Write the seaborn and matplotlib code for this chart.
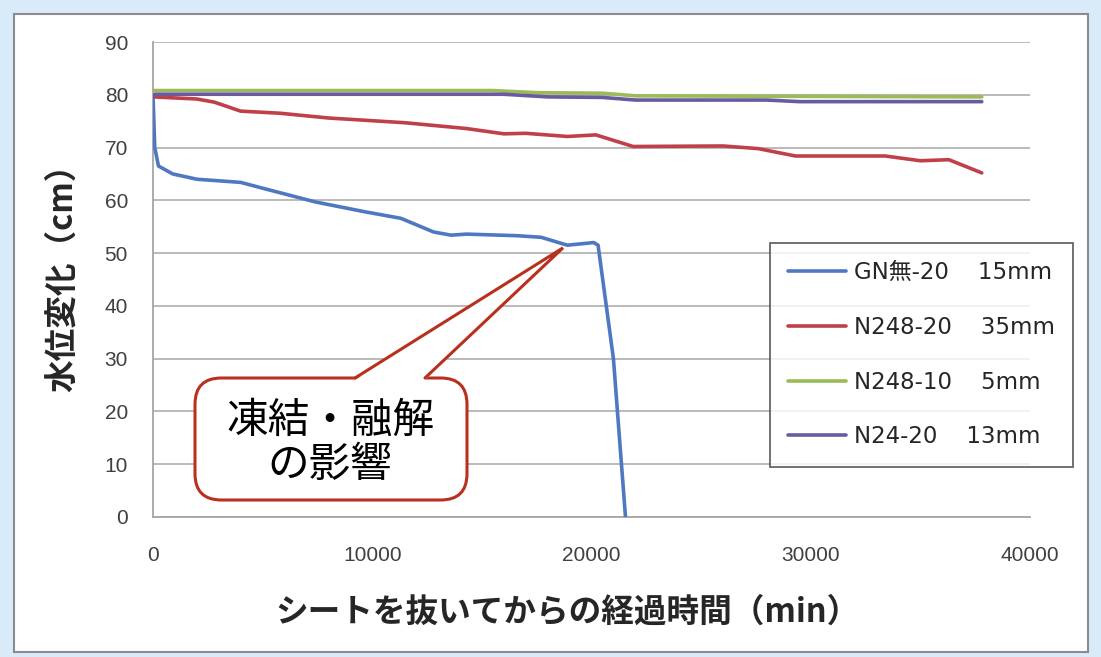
import numpy as np
import pandas as pd
import matplotlib
matplotlib.use('Agg')
import matplotlib.pyplot as plt
import seaborn as sns
from matplotlib.patches import FancyBboxPatch, Polygon, Rectangle
from matplotlib.lines import Line2D

# --- data ------------------------------------------------------------------
t_gn = [0, 80, 250, 900, 2000, 4000, 5000, 7400, 9700, 11300, 12800, 13600,
        14300, 16600, 17700, 18900, 20100, 20300, 21000, 21550]
h_gn = [80, 70, 66.5, 65, 64, 63.4, 62.3, 59.7, 57.8, 56.6, 54.0, 53.4,
        53.6, 53.3, 53.0, 51.5, 52.0, 51.5, 30.0, 0.0]

t_n248_20 = [0, 2000, 2800, 4000, 5800, 8000, 11500, 14300, 16000, 17000,
             18900, 20200, 21900, 26000, 27600, 29300, 33400, 35000, 36300, 37800]
h_n248_20 = [79.6, 79.2, 78.6, 76.9, 76.5, 75.6, 74.7, 73.6, 72.6, 72.7,
             72.1, 72.4, 70.2, 70.3, 69.8, 68.4, 68.4, 67.5, 67.7, 65.2]

t_n248_10 = [0, 15500, 17500, 20500, 22000, 37800]
h_n248_10 = [80.8, 80.8, 80.4, 80.3, 79.8, 79.6]

t_n24_20 = [0, 100, 16000, 18000, 20500, 22000, 28000, 29500, 37800]
h_n24_20 = [79.6, 80.1, 80.1, 79.6, 79.5, 79.0, 79.0, 78.7, 78.7]

labels = ['GN無-20    15mm', 'N248-20    35mm', 'N248-10    5mm', 'N24-20    13mm']
colors = ['#4f78c0', '#c0404a', '#9bbb59', '#6a5aa0']
y_ticks = list(range(0, 100, 10))
x_ticks = [0, 10000, 20000, 30000, 40000]

callout_text = '凍結・融解\nの影響'
callout_target = (18700, 51)

frames = []
for lab, t, h in zip(labels, [t_gn, t_n248_20, t_n248_10, t_n24_20],
                     [h_gn, h_n248_20, h_n248_10, h_n24_20]):
    frames.append(pd.DataFrame({'time': t, 'level': h, 'series': lab}))
df = pd.concat(frames, ignore_index=True)

# --- style ------------------------------------------------------------------
sns.set_style('white')
plt.rcParams['font.family'] = ['Noto Sans CJK JP', 'DejaVu Sans']

fig = plt.figure(figsize=(11.01, 6.57), dpi=100)
fig.patch.set_facecolor('#d9eaf8')
fig.patches.append(Rectangle((14 / 1101, 1 - 652 / 657), (1088 - 14) / 1101, (652 - 14) / 657,
                             transform=fig.transFigure, facecolor='white',
                             edgecolor='#8c8c8c', lw=1.5, zorder=-5))
ax = fig.add_axes([153 / 1101, 1 - 517 / 657, (1030 - 153) / 1101, (517 - 42) / 657])
ax.set_zorder(2)
ax.set_facecolor('white')

sns.lineplot(data=df, x='time', y='level', hue='series', palette=colors,
             hue_order=labels, sort=False, estimator=None, lw=2.6, ax=ax, zorder=3)

ax.set_xlim(0, 40000)
ax.set_ylim(0, 90)
ax.set_xticks(x_ticks)
ax.set_yticks(y_ticks)
ax.yaxis.grid(True, color='#b4b4b4', lw=1.3)
ax.xaxis.grid(False)
ax.set_axisbelow(True)
for s in ['top', 'right']:
    ax.spines[s].set_visible(False)
for s in ['left', 'bottom']:
    ax.spines[s].set_color('#a6a6a6')
    ax.spines[s].set_linewidth(1.3)
ax.tick_params(axis='both', length=0, labelsize=15, colors='#404040')
ax.tick_params(axis='x', pad=21)
ax.tick_params(axis='y', pad=18)
for lab in ax.get_xticklabels() + ax.get_yticklabels():
    lab.set_fontfamily('Liberation Sans')

def fx(px):
    return (px - 153) / 877

def fy(py):
    return (517 - py) / 475

ax.set_xlabel('シートを抜いてからの経過時間（min）', fontsize=23.5, fontweight='bold',
              color='#262626', va='center')
ax.set_ylabel('水位変化（cm）', fontsize=23.5, fontweight='bold', color='#262626', va='center')
ax.xaxis.set_label_coords(fx(567), fy(612))
ax.yaxis.set_label_coords(fx(62), fy(270))

# legend
leg = ax.legend(handles=ax.get_lines()[:4], labels=labels, loc='upper left',
                bbox_to_anchor=(770 / 1101, 1 - 243 / 657), bbox_transform=fig.transFigure,
                prop={'family': ['DejaVu Sans', 'Noto Sans CJK JP'], 'size': 16.5},
                frameon=True, fancybox=False, edgecolor='#404040',
                handlelength=2.5, handletextpad=0.35, labelspacing=1.38,
                borderpad=0.8, borderaxespad=0)
leg.get_frame().set_linewidth(1.3)
for txt in leg.get_texts():
    txt.set_color('#262626')
leg.set_zorder(10)

# callout bubble (axes fraction coordinates)
box = FancyBboxPatch((fx(195), fy(500)), fx(467) - fx(195), fy(378) - fy(500),
                     boxstyle='round,pad=0,rounding_size=0.03', mutation_aspect=877 / 475,
                     transform=ax.transAxes, facecolor='white', edgecolor='#b8301e',
                     lw=2.2, zorder=6, clip_on=False)
ax.add_patch(box)
tip = ax.transAxes.inverted().transform(ax.transData.transform(callout_target))
base_l = (fx(355), fy(380))
base_r = (fx(425), fy(380))
ax.add_patch(Polygon([base_l, tip, base_r], closed=True, transform=ax.transAxes,
                     facecolor='white', edgecolor='none', zorder=7))
ax.add_line(Line2D([base_l[0], tip[0], base_r[0]], [fy(378), tip[1], fy(378)],
                   transform=ax.transAxes, color='#b8301e', lw=2.2, zorder=8,
                   solid_joinstyle='miter'))
ax.text(fx(330), fy(443), callout_text, transform=ax.transAxes, ha='center', va='center',
        fontsize=30, linespacing=1.1, color='black', zorder=9)

fig.savefig('out.png', dpi=100, facecolor=fig.get_facecolor())
